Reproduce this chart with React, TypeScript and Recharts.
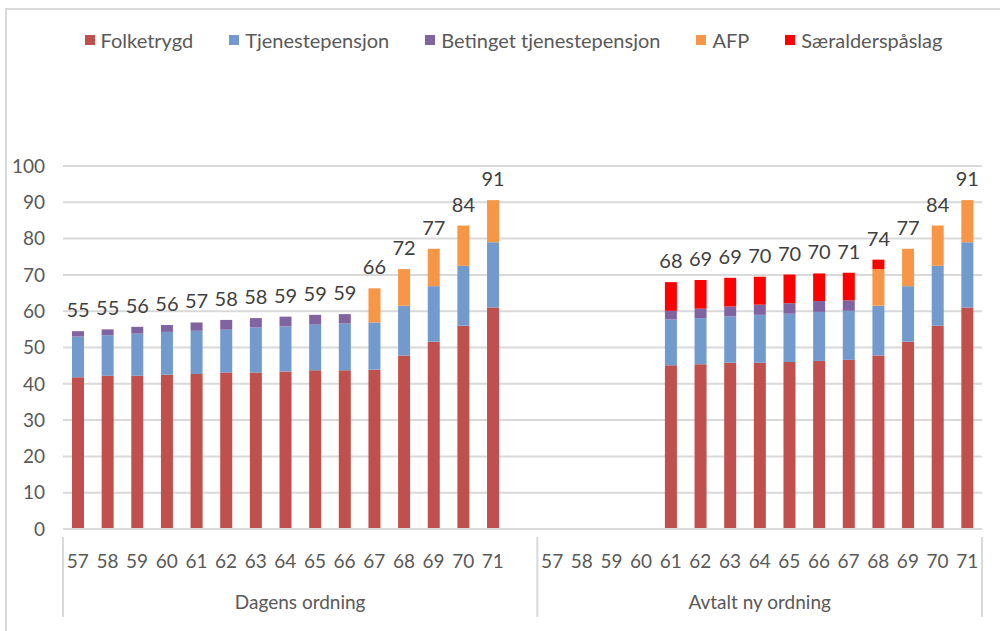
import React from 'react';
import { BarChart, Bar, XAxis, YAxis, CartesianGrid, Legend, LabelList } from 'recharts';

document.body.style.margin = '0';

// categories: 15 ages, one blank slot, 15 ages
const ages = [
  '57', '58', '59', '60', '61', '62', '63', '64', '65', '66', '67', '68', '69', '70', '71', '',
  '57', '58', '59', '60', '61', '62', '63', '64', '65', '66', '67', '68', '69', '70', '71'
];
const groups = ['Dagens ordning', 'Avtalt ny ordning'];

const folketrygd = [
  41.8, 42.2, 42.2, 42.5, 42.7, 43.1, 43.1, 43.4, 43.7, 43.7, 43.9, 47.8, 51.6, 56.0, 61.0, null,
  null, null, null, null, 45.1, 45.4, 45.8, 45.8, 46.0, 46.3, 46.6, 47.8, 51.6, 56.0, 61.0
];
const tjenestepensjon = [
  11.2, 11.2, 11.6, 11.8, 11.9, 11.8, 12.4, 12.4, 12.6, 12.9, 13.0, 13.7, 15.3, 16.5, 18.0, null,
  null, null, null, null, 12.6, 12.7, 12.8, 13.2, 13.3, 13.5, 13.5, 13.7, 15.3, 16.5, 18.0
];
const betinget = [
  1.5, 1.6, 1.9, 1.9, 2.3, 2.7, 2.6, 2.7, 2.7, 2.6, 0, 0, 0, 0, 0, null,
  null, null, null, null, 2.4, 2.6, 2.7, 2.8, 2.9, 3.0, 2.9, 0, 0, 0, 0
];
const afp = [
  0, 0, 0, 0, 0, 0, 0, 0, 0, 0, 9.4, 10.1, 10.3, 11.1, 11.6, null,
  null, null, null, null, 0, 0, 0, 0, 0, 0, 0, 10.1, 10.3, 11.1, 11.6
];
const saeralder = [
  0, 0, 0, 0, 0, 0, 0, 0, 0, 0, 0, 0, 0, 0, 0, null,
  null, null, null, null, 7.9, 7.9, 7.9, 7.7, 7.9, 7.6, 7.6, 2.6, 0, 0, 0
];
const totals = [
  55, 55, 56, 56, 57, 58, 58, 59, 59, 59, 66, 72, 77, 84, 91, null,
  null, null, null, null, 68, 69, 69, 70, 70, 70, 71, 74, 77, 84, 91
];
const yTicks = [0, 10, 20, 30, 40, 50, 60, 70, 80, 90, 100];

const series = [
  { key: 'folketrygd', name: 'Folketrygd', color: '#C0504D' },
  { key: 'tjenestepensjon', name: 'Tjenestepensjon', color: '#739ACD' },
  { key: 'betinget', name: 'Betinget tjenestepensjon', color: '#8064A2' },
  { key: 'afp', name: 'AFP', color: '#F79646' },
  { key: 'saeralder', name: 'Særalderspåslag', color: '#FF0000' },
];

const data = ages.map((age, i) => ({
  age,
  group: i < 16 ? groups[0] : groups[1],
  folketrygd: folketrygd[i],
  tjenestepensjon: tjenestepensjon[i],
  betinget: betinget[i],
  afp: afp[i],
  saeralder: saeralder[i],
  total: totals[i],
}));

// which series sits on top of each stack (the total label goes there)
const topKey = (d: any) => {
  let k = null;
  series.forEach(s => { if (d[s.key]) k = s.key; });
  return k;
};

const FONT = 'Lato, "Open Sans", sans-serif';
const W = 1000;
const H = 631;
const M = { top: 142, right: 18, bottom: 14, left: 0 };
const Y_W = 63;
const BAND = (W - M.left - M.right - Y_W) / ages.length;

function LegendContent() {
  return (
    <div style={{ display: 'flex', justifyContent: 'center', paddingLeft: 27, fontFamily: FONT, fontSize: 20, color: '#595959' }}>
      {series.map(s => (
        <div key={s.key} style={{ display: 'flex', alignItems: 'center', margin: '0 18px' }}>
          <span style={{ width: 10, height: 10, background: s.color, marginRight: 6, display: 'inline-block' }} />
          <span>{s.name}</span>
        </div>
      ))}
    </div>
  );
}

function TotalLabel(props: any) {
  const { x, y, width, value } = props;
  if (value == null) return null;
  return (
    <text x={x + width / 2} y={y - 14} textAnchor="middle" fontFamily={FONT} fontSize={20} fill="#404040">
      {value}
    </text>
  );
}

function GroupTick(props: any) {
  const { x, y, index } = props;
  const top = y - 44;
  const bottom = y + 36;
  const line = (lx: number) => <line x1={lx} x2={lx} y1={top} y2={bottom} stroke="#d9d9d9" strokeWidth={2} />;
  return (
    <g>
      {(index === 0 || index === 16) && line(x - BAND / 2)}
      {index === ages.length - 1 && line(x + BAND / 2)}
      {index === 7 && (
        <text x={x + BAND / 2} y={y + 28} textAnchor="middle" fontFamily={FONT} fontSize={19} fill="#595959">
          {groups[0]}
        </text>
      )}
      {index === 23 && (
        <text x={x} y={y + 28} textAnchor="middle" fontFamily={FONT} fontSize={19} fill="#595959">
          {groups[1]}
        </text>
      )}
    </g>
  );
}

export default function App() {
  return (
    <div style={{ position: 'relative', width: W, height: H, background: '#fff', overflow: 'hidden' }}>
      <div style={{ position: 'absolute', left: 5, top: 8, width: W, height: H, borderLeft: '2px solid #d9d9d9', borderTop: '2px solid #d9d9d9' }} />
      <BarChart width={W} height={H} data={data} margin={M} barSize={12}>
        <CartesianGrid vertical={false} stroke="#d9d9d9" strokeWidth={2} />
        <XAxis
          dataKey="age"
          interval={0}
          tickLine={false}
          axisLine={{ stroke: '#d9d9d9', strokeWidth: 2 }}
          tick={{ fontFamily: FONT, fontSize: 19, fill: '#595959' }}
          tickMargin={20}
          height={44}
        />
        <XAxis
          xAxisId="group"
          dataKey="group"
          interval={0}
          tickLine={false}
          axisLine={false}
          tick={<GroupTick />}
          height={44}
        />
        <YAxis
          width={Y_W}
          domain={[0, 100]}
          ticks={yTicks}
          interval={0}
          axisLine={false}
          tickLine={false}
          tickMargin={12}
          tick={{ fontFamily: FONT, fontSize: 19, fill: '#595959' }}
        />
        <Legend
          verticalAlign="top"
          align="center"
          content={<LegendContent />}
          wrapperStyle={{ top: 28, left: 0, width: W }}
        />
        {series.map(s => (
          <Bar key={s.key} dataKey={s.key} name={s.name} stackId="a" fill={s.color} isAnimationActive={false}>
            <LabelList
              dataKey={(d: any) => (topKey(d) === s.key ? d.total : null)}
              content={<TotalLabel />}
            />
          </Bar>
        ))}
      </BarChart>
    </div>
  );
}
